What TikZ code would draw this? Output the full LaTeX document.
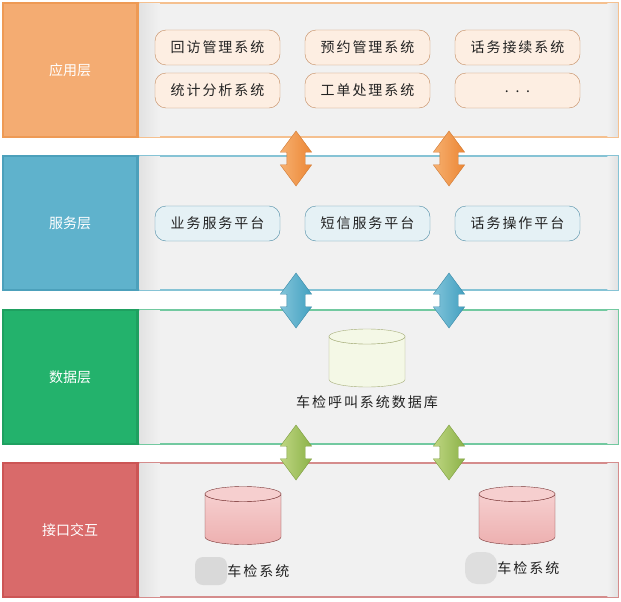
\documentclass[tikz,border=0pt]{standalone}
\usepackage{fontspec}
\setmainfont{Noto Sans CJK SC}
\newfontfamily\spacedfont[LetterSpace=14]{Noto Sans CJK SC}
\usetikzlibrary{positioning,shapes.arrows}

\definecolor{appfill}{HTML}{F4AC72}
\definecolor{appline}{HTML}{EE9A55}
\definecolor{appedge}{HTML}{F5C08F}
\definecolor{appbox}{HTML}{FDEEE2}
\definecolor{appboxline}{HTML}{C48A5E}
\definecolor{srvfill}{HTML}{5FB2CC}
\definecolor{srvline}{HTML}{4CA0BB}
\definecolor{srvedge}{HTML}{86C3D5}
\definecolor{srvbox}{HTML}{E5F1F5}
\definecolor{srvboxline}{HTML}{4E8CA6}
\definecolor{datfill}{HTML}{23B26C}
\definecolor{datline}{HTML}{1FA060}
\definecolor{datedge}{HTML}{72C9A0}
\definecolor{intfill}{HTML}{D96A6A}
\definecolor{intline}{HTML}{CC5555}
\definecolor{intedge}{HTML}{D58C8C}
\definecolor{panelgray}{HTML}{F1F1F1}
\definecolor{panelshade}{HTML}{E2E2E2}
\definecolor{textgray}{HTML}{222222}
\definecolor{dbbody}{HTML}{F4F8E6}
\definecolor{dbline}{HTML}{A5AD78}
\definecolor{pinkbody}{HTML}{EDB0B0}
\definecolor{pinkend}{HTML}{F6CFCF}
\definecolor{pinkline}{HTML}{7A3535}
\definecolor{orangelight}{HTML}{F6B070}
\definecolor{orangedark}{HTML}{EC8634}
\definecolor{orangeline}{HTML}{D07A35}
\definecolor{bluelight}{HTML}{82C4DA}
\definecolor{bluedark}{HTML}{42A0C0}
\definecolor{blueline}{HTML}{3A8AA8}
\definecolor{greenlight}{HTML}{BED682}
\definecolor{greendark}{HTML}{8CB248}
\definecolor{greenline}{HTML}{7E9E40}

\begin{document}
\begin{tikzpicture}[
    x=1pt,
    y=-1pt,
    layer/.style={
        draw,
        line width=1.5pt,
        minimum width=134pt,
        minimum height=134pt,
        inner sep=0pt,
        text=white,
        font=\fontsize{14}{16}\selectfont
    },
    panel/.style={
        draw,
        line width=1.5pt,
        fill=panelgray,
        minimum width=480pt,
        minimum height=134pt,
        inner sep=0pt,
        anchor=west
    },
    sysbox/.style={
        draw,
        rounded corners=11pt,
        minimum width=125pt,
        minimum height=35pt,
        inner sep=0pt,
        text=textgray,
        font=\spacedfont\fontsize{14}{16}\selectfont
    },
    dblarrow/.style={
        double arrow,
        draw,
        rotate=90,
        minimum height=55pt,
        minimum width=31pt,
        inner xsep=0pt,
        inner ysep=9pt,
        double arrow head extend=6.5pt,
        double arrow tip angle=73
    },
    dbase/.style={
        minimum width=76pt,
        minimum height=58pt,
        inner sep=0pt
    },
    dbname/.style={
        text=textgray,
        inner sep=0pt,
        font=\spacedfont\fontsize{14}{16}\selectfont
    }
]

\useasboundingbox (0,0) rectangle (621,602);

% Layers
\node [layer, fill=appfill, draw=appline] (app) at (70,70) {应用层};
\node [panel, draw=appedge] (apppanel) at (app.east) {};
\node [layer, fill=srvfill, draw=srvline] (srv) at (70,223) {服务层};
\node [panel, draw=srvedge] (srvpanel) at (srv.east) {};
\node [layer, fill=datfill, draw=datline] (dat) at (70,377) {数据层};
\node [panel, draw=datedge] (datpanel) at (dat.east) {};
\node [layer, fill=intfill, draw=intline] (int) at (70,530) {接口交互};
\node [panel, draw=intedge] (intpanel) at (int.east) {};
\foreach \l/\c in {app/appline,srv/srvline,dat/datline,int/intline} {
    \shade [left color=panelshade, right color=panelgray, shift={(\l panel.north west)}]
        (1.5,1.5) rectangle (22,134);
    \shade [left color=panelgray, right color=panelshade, shift={(\l panel.north east)}]
        (-12,1.5) rectangle (-1.5,134);
    \draw [line width=1.5pt, draw=\c] (\l.north east) -- (\l.south east);
}

% Application systems
\node [sysbox, fill=appbox, draw=appboxline] (visit) at (217.5,47.5) {回访管理系统};
\node [sysbox, fill=appbox, draw=appboxline, right of=visit, node distance=150pt] (booking) {预约管理系统};
\node [sysbox, fill=appbox, draw=appboxline, right of=booking, node distance=150pt] (calls) {话务接续系统};
\node [sysbox, fill=appbox, draw=appboxline] (stats) at (217.5,90.5) {统计分析系统};
\node [sysbox, fill=appbox, draw=appboxline, right of=stats, node distance=150pt] (orders) {工单处理系统};
\node [sysbox, fill=appbox, draw=appboxline, right of=orders, node distance=150pt] (more) {\raisebox{-4pt}{. . .}};

% Service platforms
\node [sysbox, fill=srvbox, draw=srvboxline] (business) at (217.5,223.5) {业务服务平台};
\node [sysbox, fill=srvbox, draw=srvboxline, right of=business, node distance=150pt] (sms) {短信服务平台};
\node [sysbox, fill=srvbox, draw=srvboxline, right of=sms, node distance=150pt] (callop) {话务操作平台};

% Databases
\node [dbase] (calldb) at (367,358) {};
\node [dbname, below=8pt of calldb] (calldbname) {车检呼叫系统数据库};
\node [dbase] (carsys1) at (243,515.5) {};
\node [dbase] (carsys2) at (517,515.5) {};
\foreach \n/\b/\t/\c in {calldb/dbbody/dbbody/dbline,carsys1/pinkend/pinkbody/pinkline,carsys2/pinkend/pinkbody/pinkline} {
    \draw [shift={(\n)}, draw=\c, top color=\b, bottom color=\t]
        (-38,-21.5) -- (-38,21.5) arc[start angle=180, end angle=0, x radius=38, y radius=7.5]
        -- (38,-21.5) arc[start angle=0, end angle=180, x radius=38, y radius=7.5] -- cycle;
    \draw [shift={(\n)}, draw=\c, fill=\b] (0,-21.5) ellipse[x radius=38, y radius=7.5];
}
\node [fill=black!15, rounded corners=8pt, minimum width=32pt, minimum height=28pt] (blur1) at (211,571) {};
\node [fill=black!13, rounded corners=12pt, minimum width=32pt, minimum height=32pt] (blur2) at (481,568) {};
\node [dbname, anchor=west] (carname1) at (blur1.east) {车检系统};
\node [dbname, anchor=west] (carname2) at (blur2.east) {车检系统};

% Arrows between layers
\node [dblarrow, left color=orangelight, right color=orangedark, draw=orangeline] (ar1) at (296,158.5) {};
\node [dblarrow, left color=orangelight, right color=orangedark, draw=orangeline] (ar2) at (449,158.5) {};
\node [dblarrow, left color=bluelight, right color=bluedark, draw=blueline] (ar3) at (296,300.5) {};
\node [dblarrow, left color=bluelight, right color=bluedark, draw=blueline] (ar4) at (449,300.5) {};
\node [dblarrow, left color=greenlight, right color=greendark, draw=greenline] (ar5) at (296,452.5) {};
\node [dblarrow, left color=greenlight, right color=greendark, draw=greenline] (ar6) at (449,452.5) {};

\end{tikzpicture}
\end{document}
